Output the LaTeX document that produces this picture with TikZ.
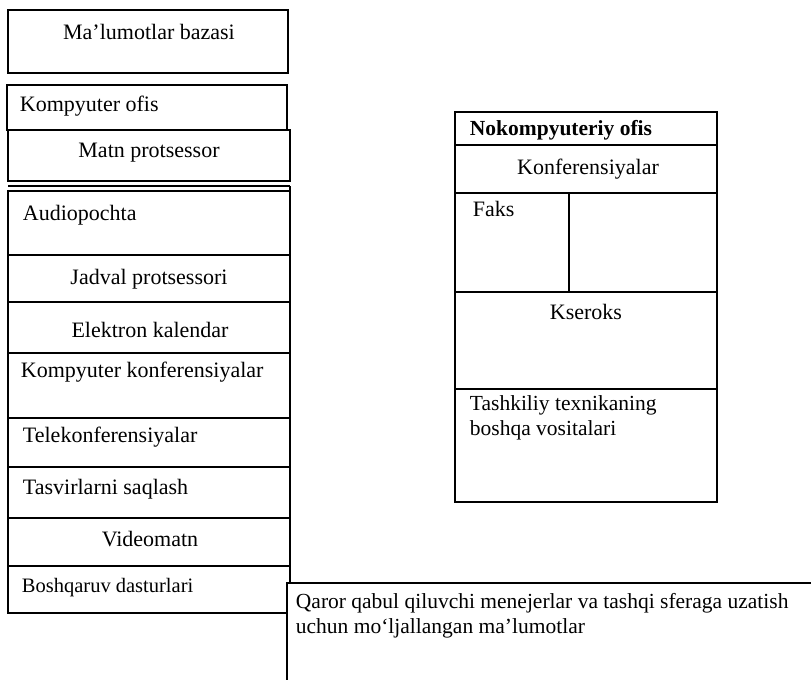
\documentclass[tikz,border=0pt]{standalone}
\usepackage{fontspec}
\setmainfont{Liberation Serif}
\begin{document}
\begin{tikzpicture}[x=1pt, y=-1pt, line width=1.2pt, font=\fontsize{22}{26}\selectfont]
    \useasboundingbox (0,0) rectangle (811,680);

    % left column
    \draw (8,10) rectangle (288,73);
    \draw (7,85) rectangle (287,130);
    \draw (8,130) rectangle (290,181);
    \draw (8,186) -- (290,186);
    \draw (290,191) -- (8,191) -- (8,613) -- (287,613);
    \draw (290,186) -- (290,583);
    \foreach \y in {255,302,353,418,467,518,566}
        \draw (8,\y) -- (290,\y);

    \node (db)    at (149,32)  {Ma’lumotlar bazasi};
    \node[anchor=west] (kofis) at (16,106) {Kompyuter ofis};
    \node (matn)  at (149,153) {Matn protsessor};
    \node[anchor=west] (audio) at (19,215) {Audiopochta};
    \node (jadval) at (149,279) {Jadval protsessori};
    \node (kal)   at (150,330) {Elektron kalendar};
    \node[anchor=west] (kkonf) at (17,372) {Kompyuter konferensiyalar};
    \node[anchor=west] (tkonf) at (19,437) {Telekonferensiyalar};
    \node[anchor=west] (tasv)  at (19,489) {Tasvirlarni saqlash};
    \node (video) at (150,539) {Videomatn};
    \node[anchor=west, font=\fontsize{20.5}{24}\selectfont] (bosh) at (18,588) {Boshqaruv dasturlari};

    % right column
    \draw (455,112) rectangle (717,502);
    \foreach \y in {145,193,292,389}
        \draw (455,\y) -- (717,\y);
    \draw (569,193) -- (569,292);

    \node[anchor=west, font=\fontsize{21.5}{26}\bfseries] (nokofis) at (466,130) {Nokompyuteriy ofis};
    \node (konf)  at (588,169) {Konferensiyalar};
    \node[anchor=west] (faks) at (469,209) {Faks};
    \node (kser)  at (586,312) {Kseroks};
    \node[anchor=north west, align=left, font=\fontsize{21.5}{25}\selectfont] (tash) at (466,392) {Tashkiliy texnikaning\\boshqa vositalari};

    % bottom box
    \draw (811,583) -- (287,583) -- (287,680);
    \node[anchor=north west, align=left, font=\fontsize{21.5}{25}\selectfont] (qaror) at (292,589)
        {Qaror qabul qiluvchi menejerlar va tashqi sferaga uzatish\\uchun mo‘ljallangan ma’lumotlar};
\end{tikzpicture}
\end{document}
